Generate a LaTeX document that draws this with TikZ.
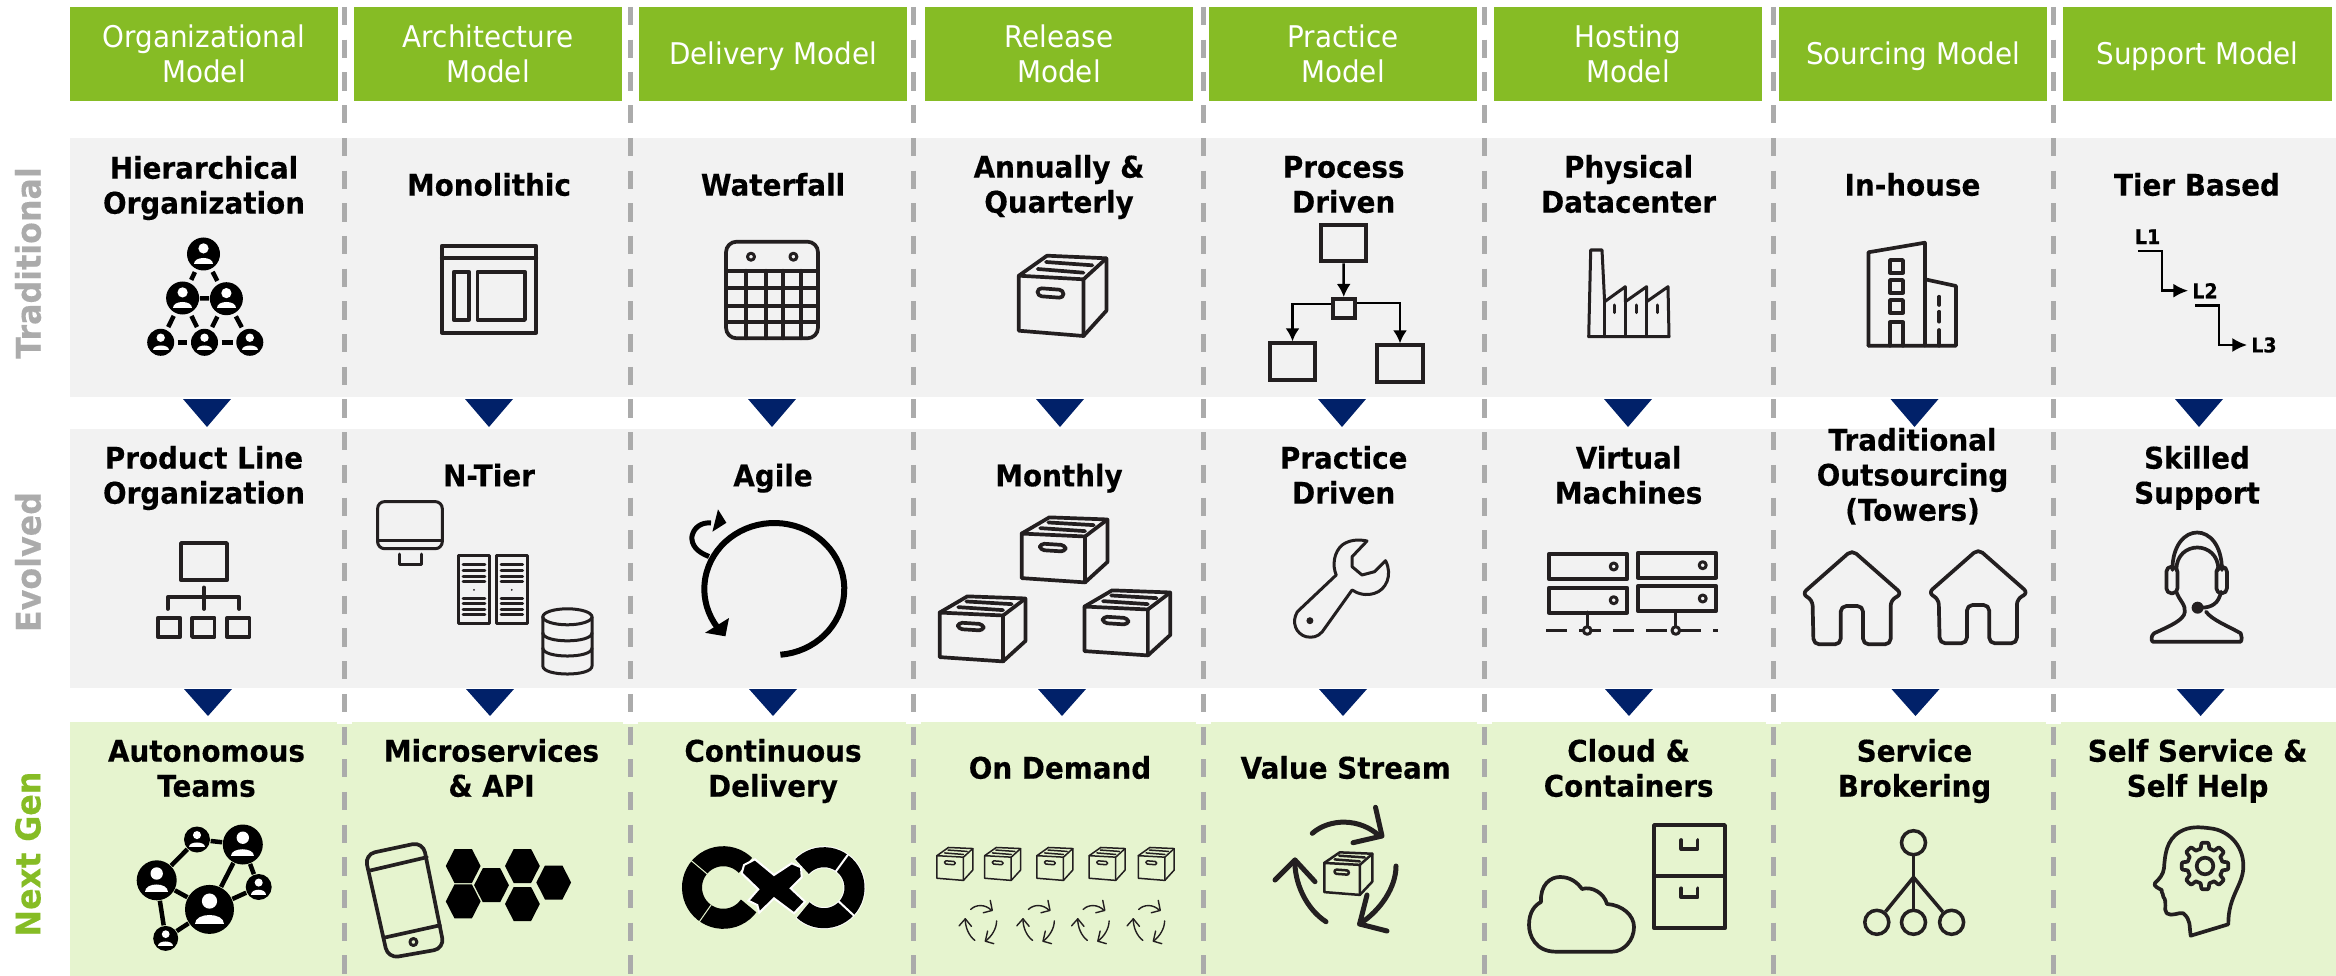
\documentclass[tikz,border=0pt]{standalone}
\usepackage{fontspec}
\setmainfont{DejaVu Sans}[FakeStretch=0.93,BoldFeatures={FakeStretch=0.93,FakeBold=0.3}]
\usetikzlibrary{arrows.meta}

\definecolor{headgreen}{HTML}{86BC25}
\definecolor{panelgray}{HTML}{F2F2F2}
\definecolor{panelgreen}{HTML}{E6F4CF}
\definecolor{sepgray}{HTML}{ABABAB}
\definecolor{rowgray}{HTML}{ABABAB}
\definecolor{navy}{HTML}{012169}
\definecolor{icondark}{HTML}{231F20}

\tikzset{
    modelhead/.style={fill=headgreen,minimum width=2.68cm,minimum height=0.94cm,inner sep=0},
    headtext/.style={anchor=base,align=center,text=white,inner sep=0,yshift=-0.015cm,font=\fontsize{8.5}{9.96}\selectfont},
    cardtext/.style={anchor=base,align=center,inner sep=0,yshift=-0.007cm,font=\fontsize{8.5}{9.96}\selectfont\bfseries},
    rowtext/.style={rotate=90,inner sep=0,font=\fontsize{9.7}{11}\selectfont\bfseries},
    sepline/.style={color=sepgray,line width=0.05cm,dash pattern=on 5.2pt off 4.1pt},
    iconline/.style={color=icondark,line width=0.037cm,line join=round,line cap=round},
    thinline/.style={iconline,line width=0.03cm},
    handleround/.style={rounded corners=1.2pt},
    flowbox/.style={draw=icondark,line width=0.04cm,inner sep=0},
    flowarrow/.style={black,line width=0.025cm,-{Latex[length=3.7pt,width=4pt]}},
    memberdisc/.style={circle,fill=black,inner sep=0},
    memberlink/.style={black,line width=0.045cm},
    brokerdot/.style={circle,draw=icondark,line width=0.035cm,minimum size=0.24cm,inner sep=0},
    parcel/.pic={
        \draw (-43.2,-20.3) -- (21.5,-16.7) -- (21.5,40) -- (-43.2,34.7) -- cycle;
        \draw (-43.2,-20.3) -- (-15,-40.3) -- (44.4,-37.7) -- (44.4,14.7) -- (21.5,40);
        \draw (21.5,-16.7) -- (44.4,-37.7);
        \draw (-16,-34) -- (30.4,-30.7);
        \draw (-24.3,-27) -- (21.5,-23.3);
        \draw[handleround] (-24.5,-8) -- (1.5,-6) -- (1.5,2) -- (-24.5,0) -- cycle;
    },
    recycle/.pic={
        \draw (-23.7,-38.7) .. controls (-6,-54) and (24,-54) .. (43.5,-36);
        \draw (39.5,-64.7) -- (46,-36) -- (17,-29.3);
        \draw (60,-6) .. controls (60,15) and (45,38) .. (23.6,52);
        \draw (31,23) -- (23.6,52) -- (51,59);
        \draw (-10,49.7) .. controls (-30,37) and (-42,10) .. (-41,-12);
        \draw (-61,8) -- (-41,-12) -- (-21,9.7);
    },
    person/.pic={
        \fill[white] (0,-3.4) circle[radius=3.1];
        \fill[white] (-5.8,5.8) .. controls (-5.8,1) and (5.8,1) .. (5.8,5.8) -- cycle;
    },
    cottage/.pic={
        \draw[rounded corners=1.6pt] (-38.5,94.3) -- (-39.5,50) -- (-50,44) -- (0,0)
            -- (50,44) -- (38.7,50) -- (38.7,94.3) -- (11,94.3) -- (11,56)
            -- (-11.3,56) -- (-11.3,94.3) -- cycle;
    },
}

\newcommand{\member}[4]{%
    \node[memberdisc,minimum size=2*#4*0.01cm] (#1) at (#2,#3) {};
    \pic[scale=#4/10] at (#1) {person};}

\begin{document}
\begin{tikzpicture}[x=0.01cm,y=-0.01cm]
    \useasboundingbox (0,0) rectangle (2336,976);

    % panels
    \fill[panelgray] (70,138) rectangle (2336,397);
    \fill[panelgray] (70,429) rectangle (2336,688);
    \fill[panelgreen] (70,722) rectangle (2336,976);
    \foreach \x in {344.3,630,913,1203,1484,1773.5,2053.6} {
        \fill[white] (\x-7.5,722) rectangle (\x+7.5,723.5);
        \draw[sepline] (\x,7) -- (\x,976);
    }

    % row names
    \node[rowtext,text=rowgray] (rowtrad) at (28,263) {Traditional};
    \node[rowtext,text=rowgray] (rowevol) at (28,562) {Evolved};
    \node[rowtext,text=headgreen] (rownext) at (28,854) {Next Gen};

    % column heads
    \foreach \cx/\base/\ltext [count=\i] in {204/81/{Organizational\\Model},488/81/{Architecture\\Model},
            773/63/{Delivery Model},1059/81/{Release\\Model},1343/81/{Practice\\Model},
            1628/81/{Hosting\\Model},1913/63/{Sourcing Model},2197.5/63/{Support Model}} {
        \node[modelhead] (head\i) at (\cx,54) {};
        \node[headtext] (headtext\i) at (\cx,\base) {\ltext};
    }

    % cards
    \foreach \cx/\base/\ltext [count=\i] in {204/213/{Hierarchical\\Organization},489/195/{Monolithic},
            773/195/{Waterfall},1059/212/{Annually \&\\Quarterly},1343.7/212/{Process\\Driven},
            1628.6/212/{Physical\\Datacenter},1912.5/195/{In-house},2197/195/{Tier Based}}
        \node[cardtext] (trad\i) at (\cx,\base) {\ltext};
    \foreach \cx/\base/\ltext [count=\i] in {204/503/{Product Line\\Organization},489/485.6/{N-Tier},
            773/485.6/{Agile},1059/485.6/{Monthly},1343.7/503/{Practice\\Driven},
            1628.6/503/{Virtual\\Machines},1912.5/520/{Traditional\\Outsourcing\\(Towers)},2197/503/{Skilled\\Support}}
        \node[cardtext] (evol\i) at (\cx,\base) {\ltext};
    \foreach \cx/\base/\ltext [count=\i] in {206.5/796/{Autonomous\\Teams},491.5/796/{Microservices\\\& API},
            773/796/{Continuous\\Delivery},1060/778/{On Demand},1345.7/778/{Value Stream},
            1628.6/796/{Cloud \&\\Containers},1914.5/796/{Service\\Brokering},2197.6/796/{Self Service \&\\Self Help}}
        \node[cardtext] (next\i) at (\cx,\base) {\ltext};

    % triangles between rows
    \foreach \x in {207,489,772,1060,1342,1628,1914.5,2199}
        \fill[navy] (\x-24,399) -- (\x+24,399) -- (\x,427) -- cycle;
    \foreach \x in {208,490,773,1062,1343,1629,1915.5,2200.6}
        \fill[navy] (\x-24,689) -- (\x+24,689) -- (\x,716) -- cycle;

    % hierarchical organization
    \member{hier1}{203.5}{254}{16.5}
    \member{hier2}{182.6}{298}{16.5}
    \member{hier3}{226.4}{298.7}{16.5}
    \member{hier4}{160.7}{342.3}{13.5}
    \member{hier5}{204.5}{342.3}{13.5}
    \member{hier6}{249.8}{342.3}{13.5}
    \draw[memberlink] (hier2) -- (hier3);
    \foreach \a/\b in {hier1/hier2,hier1/hier3,hier2/hier4,hier2/hier5,hier3/hier5,hier3/hier6,hier4/hier5,hier5/hier6}
        \draw[memberlink,shorten <=0.8pt,shorten >=0.8pt] (\a) -- (\b);

    % monolithic
    \draw[iconline] (441.8,245.7) rectangle (536.3,332.7);
    \draw[iconline] (441.8,258) -- (536.3,258);
    \draw[iconline] (453.7,271.7) rectangle (468.7,320);
    \draw[iconline] (477.6,271.7) rectangle (524.9,320);

    % waterfall
    \draw[iconline,rounded corners=3pt] (726,241.7) rectangle (818,338.3);
    \foreach \y in {270.7,288,305.7,322}
        \draw[iconline] (726,\y) -- (818,\y);
    \foreach \x in {745.8,766,783,801}
        \draw[iconline] (\x,270.7) -- (\x,338.3);
    \draw[thinline] (751,256.7) circle[radius=3.5];
    \draw[thinline] (793.4,256.7) circle[radius=3.5];

    % annually and quarterly
    \pic[iconline] at (1062,296) {parcel};

    % process driven
    \node[flowbox,minimum width=0.447cm,minimum height=0.366cm] (flow1) at (1343.6,243) {};
    \node[flowbox,minimum width=0.22cm,minimum height=0.19cm] (flow2) at (1343.8,308.5) {};
    \node[flowbox,minimum width=0.45cm,minimum height=0.367cm] (flow3) at (1292.5,361.7) {};
    \node[flowbox,minimum width=0.455cm,minimum height=0.367cm] (flow4) at (1400,363.7) {};
    \draw[flowarrow] (flow1) -- (flow2);
    \draw[flowarrow] ([yshift=1.3pt]flow2.west) -| (flow3);
    \draw[flowarrow] ([yshift=1.6pt]flow2.east) -| (flow4);

    % physical datacenter
    \draw[thinline] (1588.7,336.7) -- (1590.7,250) -- (1602,250) -- (1604.6,301.7) -- (1625.3,286.7)
        -- (1625.3,301.7) -- (1646.6,286.7) -- (1646.6,301.7) -- (1668,286.7) -- (1669,336.7) -- cycle;
    \foreach \x in {1604.6,1625.3,1646.6}
        \draw[thinline] (\x,301.7) -- (\x,336.7);
    \foreach \x in {1614.5,1636,1657.5}
        \draw[thinline] (\x,305) -- (\x,312.7);

    % in-house
    \draw[iconline] (1868.4,345.7) -- (1868.4,252.3) -- (1924.9,242.7) -- (1924.9,345.7);
    \draw[iconline] (1924.9,279.3) -- (1956,286) -- (1956,345.7) -- (1868.4,345.7);
    \foreach \y in {260,280,300}
        \draw[iconline] (1890,\y) rectangle (1903,\y+12.7);
    \draw[iconline] (1890,345.7) -- (1890,322.3) -- (1903,322.3) -- (1903,345.7);
    \draw[iconline] (1939.2,296.7) -- (1939.2,305);
    \draw[iconline] (1939.2,311.7) -- (1939.2,321.7);
    \draw[iconline] (1939.2,330) -- (1939.2,345.7);

    % tier based
    \node[inner sep=0,font=\fontsize{5.8}{7}\selectfont\bfseries] (tier1) at (2147.6,236.7) {L1};
    \node[inner sep=0,font=\fontsize{5.8}{7}\selectfont\bfseries] (tier2) at (2205,290.7) {L2};
    \node[inner sep=0,font=\fontsize{5.8}{7}\selectfont\bfseries] (tier3) at (2264,345) {L3};
    \draw[flowarrow,-{Latex[length=4.2pt,width=4pt]}] ([shift={(1pt,-1.8pt)}]tier1.south west) -- ++(24,0) |- ([xshift=-1pt]tier2.west);
    \draw[flowarrow,-{Latex[length=4.2pt,width=4pt]}] ([shift={(1pt,-1.8pt)}]tier2.south west) -- ++(24,0) |- ([xshift=-1pt]tier3.west);

    % product line organization
    \draw[iconline] (181,543) rectangle (226.9,580.3);
    \draw[iconline] (204,587.4) -- (204,609);
    \draw[iconline] (167.7,609) -- (167.7,597.3) -- (239.3,597.3) -- (239.3,609);
    \foreach \x in {157.7,192,226.9}
        \draw[iconline] (\x,617.9) rectangle (\x+22.6,637);

    % n-tier
    \draw[thinline,rounded corners=2pt] (377.6,501.6) rectangle (442.3,548.7);
    \draw[thinline] (377.6,540.6) -- (442.3,540.6);
    \draw[thinline] (399,554) -- (399,564.7) -- (421.4,564.7) -- (421.4,554);
    \foreach \x in {458.2,496} {
        \draw[thinline] (\x,555.8) rectangle (\x+31.6,623.9);
        \foreach \y in {564.7,570,576,581.7,598.4,603.7,609,614.3}
            \draw[thinline] (\x+5,\y) -- (\x+26.6,\y);
        \fill[icondark] (\x+15.8,589.9) circle[radius=1];
    }
    \draw[thinline] (567.4,616.8) circle[x radius=24.6,y radius=8];
    \draw[thinline] (542.8,616.8) -- (542.8,666) .. controls (542.8,676.7) and (592,676.7) .. (592,666) -- (592,616.8);
    \draw[thinline] (542.8,632.8) .. controls (542.8,643.5) and (592,643.5) .. (592,632.8);
    \draw[thinline] (542.8,648) .. controls (542.8,658.7) and (592,658.7) .. (592,648);

    % agile
    \draw[black,line width=0.06cm] plot[domain=85:-216,samples=60] ({774.3+70*cos(\x)},{589+66*sin(\x)});
    \fill[black] (705,632.8) -- (729,618) -- (725.4,636.3) -- cycle;
    \draw[black,line width=0.05cm] (709,556.5) .. controls (697,552) and (691,545) .. (692,536) .. controls (694,527) and (702,522) .. (711,523);
    \fill[black] (718,509.4) -- (726.4,522.8) -- (712.4,531.7) -- cycle;

    % monthly
    \pic[iconline,xscale=0.98,yscale=0.81] at (1064,550) {parcel};
    \pic[iconline,xscale=0.98,yscale=0.81] at (982,629) {parcel};
    \pic[iconline,xscale=0.98,yscale=0.81] at (1126.8,623) {parcel};

    % practice driven
    \draw[thinline] (1297.4,611.7) -- (1336.2,575) .. controls (1332,565) and (1334,552) .. (1342.2,545)
        .. controls (1349,540) and (1358,539) .. (1367,541) -- (1352.1,556.7) -- (1352.1,566.7) -- (1362,575)
        -- (1374.5,571.7) -- (1385.5,560.7) .. controls (1393,575) and (1386,590) .. (1374.5,593.3)
        .. controls (1366,596) and (1358,594) .. (1352.1,590) -- (1322.3,631.7)
        .. controls (1318,637) and (1312,638) .. (1306,636.7) .. controls (1296,634) and (1291,622) .. (1297.4,611.7) -- cycle;
    \fill[icondark] (1309.9,620.7) circle[radius=3.5];

    % virtual machines
    \foreach \sx/\sy in {1548.7/554,1548.7/587.7,1637.7/552.7,1637.7/586} {
        \draw[iconline] (\sx,\sy) rectangle (\sx+78.5,\sy+25);
        \draw[thinline] (\sx+65,\sy+12.5) circle[radius=3.5];
    }
    \draw[iconline,dash pattern=on 6pt off 3.5pt,line cap=butt] (1546,630.5) -- (1718.4,630.5);
    \foreach \x in {1587.2,1675.8} {
        \draw[thinline] (\x,612) -- (\x,627);
        \draw[thinline,fill=panelgray] (\x,630.5) circle[radius=3.8];
    }

    % traditional outsourcing
    \pic[iconline] at (1852,550) {cottage};
    \pic[iconline] at (1978.2,549) {cottage};

    % skilled support
    \draw[iconline] (2172.4,570) .. controls (2172.4,520) and (2221.9,520) .. (2221.9,570);
    \draw[iconline] (2176.3,570) .. controls (2176.3,540) and (2218.4,540) .. (2218.4,570);
    \draw[iconline,rounded corners=1.4pt] (2166.4,566.7) rectangle (2177.4,593.3);
    \draw[iconline,rounded corners=1.4pt] (2216.4,566.7) rectangle (2226.9,593.3);
    \draw[iconline] (2176.3,591.7) .. controls (2179,600) and (2186,605) .. (2184.8,612)
        .. controls (2184,620) and (2170,626) .. (2154,633.3) .. controls (2151,636) and (2151,640) .. (2152.6,641.7)
        -- (2240.7,641.7) .. controls (2242,640) and (2242,636) .. (2240.7,633.3)
        .. controls (2228,626) and (2212,620) .. (2206,611.7);
    \draw[iconline] (2220.9,591.7) .. controls (2219,603) and (2212,607.7) .. (2201,607.7);
    \fill[icondark] (2197.6,607.7) circle[radius=6];

    % autonomous teams
    \member{team1}{197}{839.5}{13}
    \member{team2}{242.8}{844.5}{20}
    \member{team3}{156.7}{880.3}{20}
    \member{team4}{258.7}{887}{13}
    \member{team5}{209.5}{909.4}{24.5}
    \member{team6}{165.7}{938.4}{12.5}
    \foreach \a/\b in {team1/team2,team1/team3,team2/team4,team2/team5,team3/team5,team3/team6,team5/team6,team5/team4}
        \draw[memberlink] (\a) -- (\b);

    % microservices
    \draw[iconline,rounded corners=3pt] (364.7,854.4) -- (422.9,842) -- (444.3,948.4) -- (388,958.3) -- cycle;
    \draw[iconline] (370.6,870.4) -- (426.9,857.2);
    \draw[iconline] (384,937.7) -- (440,925.3);
    \draw[thinline] (413.4,942) circle[radius=3.5];
    \foreach \hx/\hy in {463.2/866,463.2/901.4,491.5/885.2,522.4/866,522.4/904,553.7/882.5}
        \fill[black] (\hx-17.4,\hy) -- (\hx-8.7,\hy-17) -- (\hx+8.7,\hy-17) -- (\hx+17.4,\hy)
            -- (\hx+8.7,\hy+17) -- (\hx-8.7,\hy+17) -- cycle;

    % continuous delivery
    \draw[black,line width=0.2cm] plot[domain=36:315,samples=40] ({723.3+31.3*cos(\x)},{887.5+31.3*sin(\x)});
    \draw[white,line width=0.22cm] plot[domain=-137:134,samples=40] ({824+30.5*cos(\x)},{887.7+30.5*sin(\x)});
    \draw[black,line width=0.2cm] plot[domain=-136:133,samples=40] ({824+30.5*cos(\x)},{887.7+30.5*sin(\x)});
    \fill[black,draw=white,line width=0.02cm] (755,859.3) -- (774,875) -- (791.7,863.3) -- (801,867.3) -- (801.7,877.3)
        -- (790.7,888.3) -- (805,901.7) -- (794,913.3) -- (774,898.3) -- (759.3,912.7) -- (757.3,905)
        -- (748.3,900.7) -- (758.3,889.3) -- (741.7,873.3) -- (744,865) -- cycle;
    \foreach \t in {220,125}
        \draw[panelgreen,line width=0.01cm] ({723.3+21*cos(\t)},{887.5+21*sin(\t)}) -- ({723.3+42*cos(\t)},{887.5+42*sin(\t)});
    \foreach \t in {-54,43}
        \draw[white,line width=0.02cm] ({824+20*cos(\t)},{887.7+20*sin(\t)}) -- ({824+41*cos(\t)},{887.7+41*sin(\t)});

    % on demand
    \foreach \x in {954.6,1002.4,1054.6,1106.9,1156}
        \pic[iconline,line width=0.015cm,xscale=0.41,yscale=0.41,handleround/.style={rounded corners=0.4pt}] at (\x,864) {parcel};
    \foreach \x in {978,1035.7,1090.5,1146}
        \pic[iconline,line width=0.014cm,xscale=0.31,yscale=0.35] at (\x,923) {recycle};

    % value stream
    \pic[iconline,line width=0.05cm] at (1336,872) {recycle};
    \pic[iconline,line width=0.025cm,xscale=0.55,yscale=0.53,handleround/.style={rounded corners=0.6pt}] at (1348,873.7) {parcel};

    % cloud and containers
    \draw[iconline] (1612,951.7) -- (1556,951.7) .. controls (1535,951.7) and (1529,935) .. (1529,925)
        .. controls (1529,912) and (1535,905) .. (1541,902) .. controls (1540,885) and (1550,877) .. (1560,877)
        .. controls (1570,877) and (1577,882) .. (1582,889) .. controls (1592,886) and (1604,893) .. (1607,904)
        .. controls (1622,905) and (1634,915) .. (1634,927) .. controls (1634,940) and (1624,951.7) .. (1612,951.7) -- cycle;
    \draw[iconline] (1654,825) rectangle (1725,928.3);
    \draw[iconline] (1654,876) -- (1725,876);
    \foreach \y in {840,888.3}
        \draw[iconline] (1681.3,\y) -- (1681.3,\y+9) -- (1697.6,\y+9) -- (1697.6,\y);

    % service brokering
    \coordinate (brokerhub) at (1913.5,877.3);
    \node[brokerdot] (broker1) at (1913.5,842.7) {};
    \node[brokerdot] (broker2) at (1876.8,922.3) {};
    \node[brokerdot] (broker3) at (1913.5,922.3) {};
    \node[brokerdot] (broker4) at (1951.6,922.3) {};
    \foreach \n in {1,2,3,4}
        \draw[iconline,line cap=butt,line width=0.035cm] (brokerhub) -- (broker\n);

    % self service and self help
    \draw[iconline] (2228.3,924.3) -- (2190.7,935.7) .. controls (2189,925) and (2191,920) .. (2183.3,913.3)
        .. controls (2178,912) and (2172,917) .. (2166.7,913.3) .. controls (2163,909) and (2168,903) .. (2163.3,896.7)
        .. controls (2163,892) and (2160,891) .. (2161.7,890) .. controls (2158,888) and (2153,886) .. (2155,883)
        .. controls (2160,878) and (2163,875) .. (2164,868) .. controls (2165,855) and (2166,840) .. (2180,831.7)
        .. controls (2190,826) and (2200,827) .. (2210,828.3) .. controls (2228,830) and (2243,845) .. (2243.3,865)
        .. controls (2244,885) and (2228,895) .. (2228.3,924.3);
    \draw[iconline] plot[domain=0:360,samples=145] ({2205+(20.5+2.8*max(-1,min(1,3*sin(8*\x+90))))*cos(\x)},{866+(20.5+2.8*max(-1,min(1,3*sin(8*\x+90))))*sin(\x)}) -- cycle;
    \draw[iconline] (2205,866) circle[radius=8.3];
\end{tikzpicture}
\end{document}
